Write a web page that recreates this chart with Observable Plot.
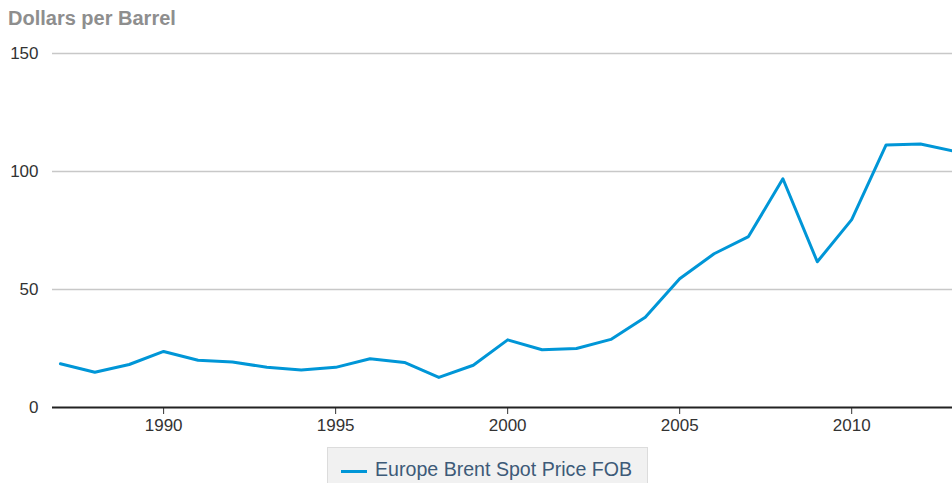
<!DOCTYPE html>
<html>
<head>
<meta charset="utf-8">
<script src="https://cdn.jsdelivr.net/npm/d3@7"></script>
<script src="https://cdn.jsdelivr.net/npm/@observablehq/plot@0.6"></script>
<style>
  html, body { margin: 0; padding: 0; background: #fff; overflow: hidden; }
  body { width: 952px; height: 483px; font-family: "Liberation Sans", Arial, sans-serif; }
  #title { height: 30px; padding-left: 8px; font-size: 20px; font-weight: bold; color: #8e8e8e; line-height: 36px; }
  #legend { position: absolute; left: 327px; top: 447px; width: 321px; height: 40px; background: #f1f1f1; border: 1px solid #dcdcdc; box-sizing: border-box; }
  #legend .sw { position: absolute; left: 13px; top: 22px; width: 26px; height: 3px; background: #0096d7; }
  #legend .tx { position: absolute; left: 47px; top: 10px; font-size: 19.6px; color: #3d5a78; white-space: nowrap; }
</style>
</head>
<body>
<div id="title">Dollars per Barrel</div>
<div id="chart"></div>
<div id="legend"><div class="sw"></div><div class="tx">Europe Brent Spot Price FOB</div></div>
<script>
const years = [1987,1988,1989,1990,1991,1992,1993,1994,1995,1996,1997,1998,1999,2000,2001,2002,2003,2004,2005,2006,2007,2008,2009,2010,2011,2012,2013];
const prices = [18.53,14.91,18.23,23.76,20.04,19.32,17.01,15.86,17.02,20.64,19.11,12.76,17.90,28.66,24.46,24.99,28.85,38.26,54.57,65.16,72.44,96.94,61.74,79.61,111.26,111.63,108.56];
const yTicks = [0,50,100,150];
const xTicks = [1990,1995,2000,2005,2010];
const seriesName = "Europe Brent Spot Price FOB";

const data = years.map((y, i) => ({year: y, price: prices[i]}));

const chart = Plot.plot({
  width: 952,
  height: 410,
  marginLeft: 52,
  marginRight: 0,
  marginTop: 23,
  marginBottom: 33,
  style: {fontSize: "17px", fontFamily: "Liberation Sans, Arial, sans-serif", color: "#333", background: "#fff"},
  x: {domain: [1986.77, 2012.93], ticks: xTicks, tickFormat: d => String(d), tickSize: 7, tickPadding: 4, label: null},
  y: {domain: [0, 150], ticks: yTicks, tickSize: 0, tickPadding: 14, label: null},
  marks: [
    Plot.ruleY(yTicks.filter(d => d > 0), {stroke: "#c8c8c8", strokeWidth: 1.5}),
    Plot.line(data, {x: "year", y: "price", stroke: "#0096d7", strokeWidth: 3, clip: true}),
    Plot.ruleY([0], {stroke: "#222", strokeWidth: 2})
  ]
});
document.getElementById("chart").appendChild(chart);
</script>
</body>
</html>
